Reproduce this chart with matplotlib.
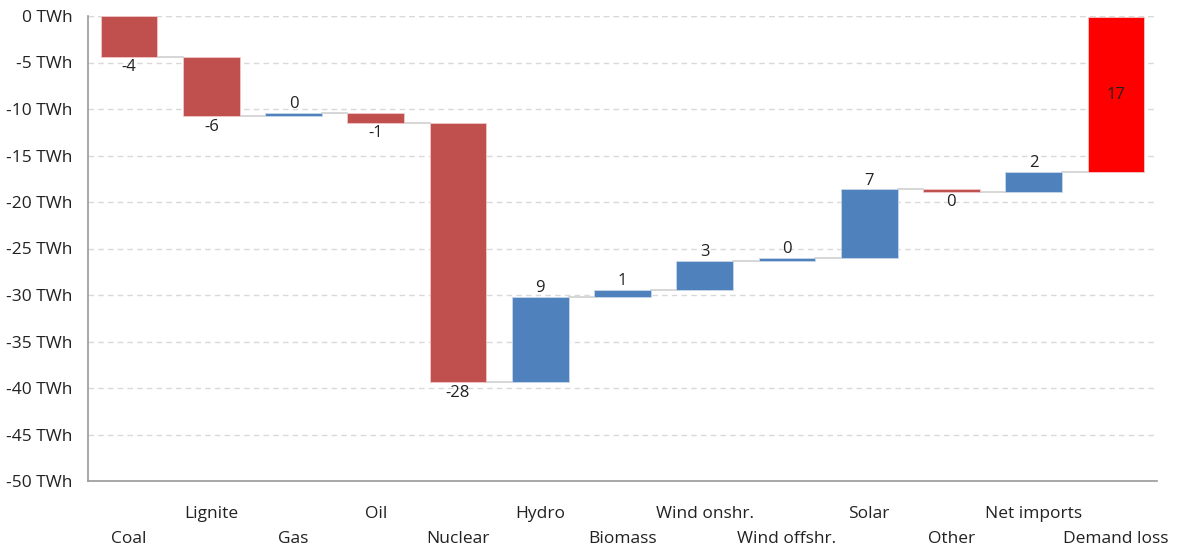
import matplotlib
matplotlib.use("Agg")
import matplotlib.pyplot as plt
import numpy as np

categories = ["Coal", "Lignite", "Gas", "Oil", "Nuclear", "Hydro", "Biomass",
              "Wind onshr.", "Wind offshr.", "Solar", "Other", "Net imports", "Demand loss"]
deltas = [-4.4, -6.4, 0.4, -1.1, -27.9, 9.2, 0.75, 3.1, 0.3, 7.4, -0.25, 2.1, 16.7]
labels = ["-4", "-6", "0", "-1", "-28", "9", "1", "3", "0", "7", "0", "2", "17"]
yticks = [0, -5, -10, -15, -20, -25, -30, -35, -40, -45, -50]

plt.rcParams['font.family'] = ['Open Sans', 'DejaVu Sans']

fig = plt.figure(figsize=(11.8, 5.49), dpi=100)
ax = fig.add_axes([88/1180, 68/549, (1157-88)/1180, (481-16)/549])

red = "#C0504D"
blue = "#4F81BD"
final = "#FF0000"

x = np.arange(len(categories))
starts = np.concatenate([[0], np.cumsum(deltas)[:-1]])
ends = starts + np.array(deltas)
w = 0.69

for i, (s, d, e) in enumerate(zip(starts, deltas, ends)):
    if i == len(categories) - 1:
        c = final
    else:
        c = blue if d >= 0 else red
    ax.bar(x[i], d, bottom=s, width=w, color=c, edgecolor="#f2c8c8" if c != blue else "#c8d6ea",
           linewidth=0.6, zorder=3)
    if i < len(categories) - 1:
        ax.plot([x[i] + w/2, x[i+1] - w/2], [e, e], color="#d0d0d0", lw=1.2, zorder=2)
    if i == len(categories) - 1:
        ax.text(x[i], s + d/2, labels[i], ha="center", va="center", fontsize=12, color="#222222", zorder=4)
    elif d >= 0:
        ax.text(x[i], max(s, e) + 0.1, labels[i], ha="center", va="bottom", fontsize=12, color="#222222", zorder=4)
    else:
        ax.text(x[i], min(s, e) - 0.25, labels[i], ha="center", va="top", fontsize=12, color="#222222", zorder=4)

ax.set_xlim(-0.5, len(categories) - 0.5)
ax.set_ylim(-50, 0)
ax.set_yticks(yticks)
ax.set_yticklabels([f"{v} TWh" for v in yticks], fontsize=12.5, color="#222222")
ax.tick_params(axis="y", length=0, pad=11)
ax.set_xticks([])
for i, cat in enumerate(categories):
    yoff = -0.071 if i % 2 == 1 else -0.125
    ax.text(x[i], yoff, cat, transform=ax.get_xaxis_transform(), ha="center", va="center",
            fontsize=12.5, color="#222222")

ax.grid(axis="y", color="#d9d9d9", linestyle=(0, (4, 3)), lw=1.0, zorder=0)
ax.axhline(0, color="#d9d9d9", linestyle=(0, (4, 3)), lw=1.0, zorder=0)
for s in ["top", "right"]:
    ax.spines[s].set_visible(False)
ax.spines["left"].set_color("#999999")
ax.spines["bottom"].set_color("#999999")
ax.spines["left"].set_linewidth(1.2)
ax.spines["bottom"].set_linewidth(1.2)
ax.set_axisbelow(True)

fig.savefig("out.png", dpi=100)
